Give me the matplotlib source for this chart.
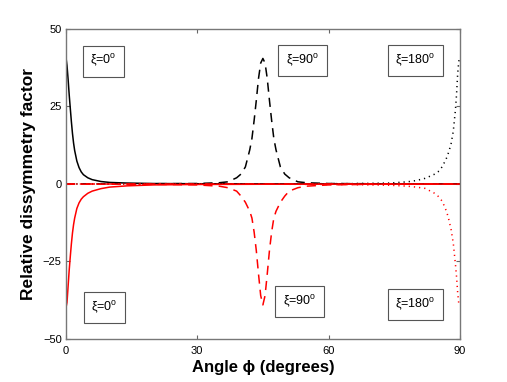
import matplotlib
matplotlib.use("Agg")
import matplotlib.pyplot as plt

plt.rcParams['font.family'] = ['Liberation Sans', 'DejaVu Sans']
plt.rcParams['mathtext.fontset'] = 'custom'
plt.rcParams['mathtext.rm'] = 'Liberation Sans'

# xi = 0 deg (peak at phi = 0)
x_xi0 = [0, 0.25, 0.5, 0.75, 1.0, 1.25, 1.5, 1.75, 2.0, 2.5, 3.0, 3.5, 4.0, 5.0,
         6.0, 8.0, 10, 14, 20, 30, 45, 60, 75, 90]
black_xi0 = [41, 38.2, 33.8, 28.8, 24.4, 20.1, 16.3, 13.2, 10.8, 7.4, 5.3, 3.9, 3.0,
             2.0, 1.4, 0.8, 0.5, 0.3, 0.15, 0.08, 0.05, 0.04, 0.03, 0.03]
red_xi0 = [-40, -38.2, -33, -27.8, -23.4, -19.3, -15.8, -13.1, -11.0, -7.9, -6.1,
           -4.9, -4.1, -3.0, -2.3, -1.5, -1.0, -0.6, -0.3, -0.15, -0.08, -0.05,
           -0.04, -0.03]

# xi = 90 deg (peak at phi = 45)
x_xi90 = [0, 10, 20, 30, 35, 37, 39, 40, 41, 42, 42.5, 43, 43.5, 44, 44.5, 45,
          45.5, 46, 46.5, 47, 47.5, 48, 49, 50, 51, 53, 55, 60, 70, 80, 90]
black_xi90 = [0.05, 0.05, 0.08, 0.15, 0.4, 0.7, 2.0, 3.2, 5.5, 11, 14.7, 20.5, 27,
              34, 39, 40.5, 39, 34, 27, 20.5, 14.7, 11, 5.5, 3.2, 2.0, 0.7, 0.4,
              0.15, 0.08, 0.05, 0.05]
red_xi90 = [-0.05, -0.06, -0.1, -0.3, -0.7, -1.2, -2.3, -3.9, -5.9, -8.8, -11,
            -15.5, -21.5, -29, -36, -39, -36, -29, -21.5, -15.5, -11, -8.8, -5.9,
            -3.9, -2.3, -1.2, -0.7, -0.3, -0.1, -0.06, -0.05]

# xi = 180 deg (peak at phi = 90)
x_xi180 = [0, 15, 30, 50, 65, 74, 78, 80, 82, 84, 85, 86, 87, 87.5, 88, 88.5, 89,
           89.25, 89.5, 89.75, 90]
black_xi180 = [0.03, 0.03, 0.04, 0.06, 0.12, 0.3, 0.7, 1.1, 1.8, 3.0, 3.9, 5.6,
               8.5, 10.5, 13, 17, 24, 29, 35.5, 39.5, 41]
red_xi180 = [-0.03, -0.04, -0.05, -0.08, -0.2, -0.4, -0.7, -1.0, -1.4, -2.8, -3.9,
             -5.6, -9, -11.6, -14.7, -19.1, -26, -30, -35, -38.5, -39]

zero_x = [0, 90]
zero_y = [0, 0]

xticks = [0, 30, 60, 90]
yticks = [-50, -25, 0, 25, 50]

fig = plt.figure(figsize=(5.07, 3.82), dpi=100)
ax = fig.add_axes([0.130, 0.1126, 0.777, 0.8115])

ax.plot(x_xi0, black_xi0, color='k', lw=1.1)
ax.plot(x_xi90, black_xi90, color='k', lw=1.1, dashes=(6, 4))
ax.plot(x_xi180, black_xi180, color='k', lw=1.1, dashes=(0.8, 2.6))
ax.plot(zero_x, zero_y, color='r', lw=1.1, dashes=(6, 3, 1, 3))
ax.plot(x_xi0, red_xi0, color='r', lw=1.1)
ax.plot(x_xi90, red_xi90, color='r', lw=1.1, dashes=(6, 4))
ax.plot(x_xi180, red_xi180, color='r', lw=1.1, dashes=(0.8, 2.6))

# labels in boxes
box = dict(boxstyle='square,pad=0.6', facecolor='white', edgecolor='#555555', lw=0.8)
ax.text(8.6, 39.6, 'ξ=0$^{\\rm o}$', ha='center', va='center', fontsize=9, bbox=box)
ax.text(54.1, 39.8, 'ξ=90$^{\\rm o}$', ha='center', va='center', fontsize=9, bbox=box)
ax.text(79.9, 39.8, 'ξ=180$^{\\rm o}$', ha='center', va='center', fontsize=9, bbox=box)
ax.text(8.8, -39.8, 'ξ=0$^{\\rm o}$', ha='center', va='center', fontsize=9, bbox=box)
ax.text(53.4, -37.9, 'ξ=90$^{\\rm o}$', ha='center', va='center', fontsize=9, bbox=box)
ax.text(79.8, -38.9, 'ξ=180$^{\\rm o}$', ha='center', va='center', fontsize=9, bbox=box)

ax.set_xlim(0, 90)
ax.set_ylim(-50, 50)
ax.set_xticks(xticks)
ax.set_yticks(yticks)
ax.tick_params(direction='in', length=3, width=0.8, color='#666666',
               labelsize=8, top=True, right=True)
ax.tick_params(axis='x', pad=5)
ax.tick_params(axis='y', pad=3)
for s in ax.spines.values():
    s.set_color('#777777')
    s.set_linewidth(1.0)

ax.set_xlabel('Angle ϕ (degrees)', fontsize=12, fontweight='bold', labelpad=3)
ax.set_ylabel('Relative dissymmetry factor', fontsize=12.5, fontweight='bold', labelpad=5)

fig.savefig('out.png', dpi=100)
